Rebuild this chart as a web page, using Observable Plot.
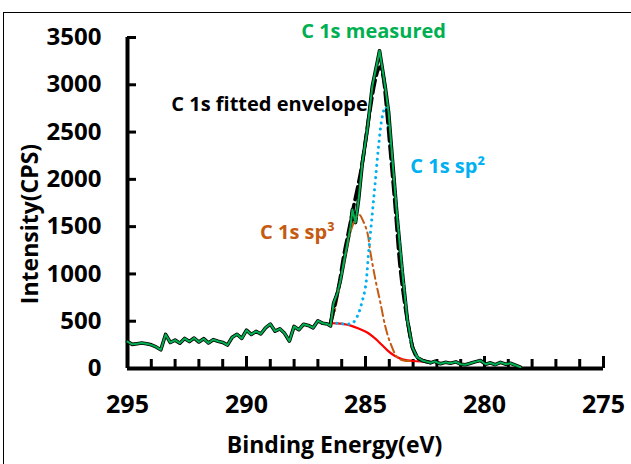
<!DOCTYPE html>
<html><head><meta charset="utf-8">
<script src="https://cdn.jsdelivr.net/npm/d3@7"></script>
<script src="https://cdn.jsdelivr.net/npm/@observablehq/plot@0.6"></script>
<style>
body{margin:0;background:#fff;}
#wrap{position:relative;width:631px;height:464px;overflow:hidden;background:#fff;}
#border{position:absolute;left:3px;top:12px;width:700px;height:600px;border:1.5px solid #000;box-sizing:border-box;}
#chart{position:absolute;left:0;top:0;}
</style></head><body>
<div id="wrap"><div id="border"></div><div id="chart"></div></div>
<script>
// ---- data ----
const measuredBE = [295.0,294.8,294.6,294.4,294.2,294.0,293.8,293.6,293.4,293.2,293.0,292.8,292.6,292.4,292.2,292.0,291.8,291.6,291.4,291.2,291.0,290.8,290.6,290.4,290.2,290.0,289.8,289.6,289.4,289.2,289.0,288.8,288.6,288.4,288.2,288.0,287.8,287.6,287.4,287.2,287.0,286.8,286.6,
  286.47,286.34,286.18,286.05,285.84,285.63,285.55,285.42,285.29,285.13,284.92,284.71,284.50,284.41,284.29,284.16,284.03,283.87,283.66,283.45,283.24,283.03,282.82,282.61,
  282.4,282.27,282.1,281.85,281.65,281.43,281.2,281.0,280.8,280.59,280.4,280.17,279.95,279.75,279.55,279.33,279.1,278.91,278.7,278.49];
const measuredCPS = [285,255,262,270,262,250,228,198,360,275,300,268,318,285,322,280,315,270,305,288,276,248,330,362,318,405,360,392,365,430,470,395,420,372,290,445,410,468,455,430,505,478,470,
  450,691,798,936,1223,1500,1681,1543,1787,2181,2532,2989,3245,3360,3170,2957,2713,2213,1574,1011,511,223,117,85,
  70,60,75,50,65,55,70,45,40,55,70,85,45,60,40,65,45,55,35,15];

const envelopeBE  = [286.47,286.34,286.1,285.92,285.7,285.5,285.3,285.13,284.87,284.58,284.45,284.37,284.25,284.16,283.95,283.74,283.53,283.24,282.98,282.8,282.61,282.27];
const envelopeCPS = [479,617,900,1180,1460,1713,1950,2181,2638,3064,3170,3191,3080,2883,2287,1681,1043,511,191,110,85,64];

const sp2BE  = [286.47,286.1,285.76,285.5,285.29,285.15,285.0,284.87,284.71,284.58,284.45,284.29,284.16,284.03,283.82,283.61,283.4,283.19,282.98,282.69,282.4];
const sp2CPS = [479,477,468,490,585,700,862,1223,1649,2000,2351,2670,2766,2532,2000,1394,862,436,191,85,74];

const sp3BE  = [286.47,286.3,286.1,285.9,285.7,285.5,285.35,285.25,285.1,284.92,284.79,284.58,284.37,284.16,283.95,283.66,283.4,283.0];
const sp3CPS = [479,600,860,1130,1380,1540,1610,1625,1560,1436,1223,936,691,436,266,117,85,78];

const bgBE  = [286.47,286.2,285.9,285.63,285.3,284.92,284.7,284.5,284.3,284.08,283.85,283.66,283.45,283.24,283.0,282.7,282.4];
const bgCPS = [479,477,470,457,425,383,340,298,245,191,145,117,95,85,79,76,74];

const xTickLabels = [295,290,285,280,275];
const xMinorTicks = [294,293,292,291,289,288,287,286,284,283,282,281,279,278,277,276];
const yTicks = [0,500,1000,1500,2000,2500,3000,3500];

const labelText  = ["C 1s measured","C 1s fitted envelope","C 1s sp\u00B2","C 1s sp\u00B3"];
const labelBE    = [284.66,289.03,281.55,287.86];
const labelCPS   = [3565,2790,2140,1440];
const labelColor = ["#00b050","#000000","#00b0f0","#c55a11"];

// ---- build tables ----
const toRows = (xs, ys) => xs.map((x, i) => ({be: x, cps: ys[i]}));
const measured = toRows(measuredBE, measuredCPS);
const envelope = toRows(envelopeBE, envelopeCPS);
const sp2 = toRows(sp2BE, sp2CPS);
const sp3 = toRows(sp3BE, sp3CPS);
const bg = toRows(bgBE, bgCPS);
const labels = labelText.map((t, i) => ({t, be: labelBE[i], cps: labelCPS[i], c: labelColor[i]}));

const font = "'Open Sans', 'Noto Sans', sans-serif";
const W = 631, H = 464, mL = 127, mR = 28, mT = 37, mB = 96;
const frameW = W - mL - mR, frameH = H - mT - mB;

const chart = Plot.plot({
  width: W, height: H,
  marginLeft: mL, marginRight: mR, marginTop: mT, marginBottom: mB,
  x: {domain: [295, 275]},
  y: {domain: [0, 3500]},
  style: {fontFamily: font, fontWeight: "bold", background: "transparent", color: "#000", overflow: "visible"},
  marks: [
    Plot.axisX({ticks: xTickLabels, tickSize: 0, tickPadding: 27, fontSize: 25, label: null}),
    Plot.axisY({ticks: yTicks, tickSize: 0, tickPadding: 26, fontSize: 24, tickFormat: d => String(d), label: null}),
    Plot.ruleX([295], {stroke: "#000", strokeWidth: 4}),
    Plot.ruleY([0], {stroke: "#000", strokeWidth: 4}),
    // inward tick marks (drawn above the axis lines)
    Plot.tickX(xMinorTicks, {x: d => d, insetTop: frameH - 9, stroke: "#000", strokeWidth: 3}),
    Plot.tickX(xTickLabels, {x: d => d, insetTop: frameH - 12, stroke: "#000", strokeWidth: 3}),
    Plot.tickY(yTicks, {y: d => d, insetRight: frameW - 9, stroke: "#000", strokeWidth: 3}),
    Plot.line(measured, {x: "be", y: "cps", stroke: "#000", strokeWidth: 3.6}),
    Plot.line(bg, {x: "be", y: "cps", stroke: "#ff0000", strokeWidth: 2.2, curve: "basis"}),
    Plot.line(sp3, {x: "be", y: "cps", stroke: "#c55a11", strokeWidth: 2, strokeDasharray: "9 4 2 4", curve: "catmull-rom"}),
    Plot.line(sp2, {x: "be", y: "cps", stroke: "#00b0f0", strokeWidth: 3, strokeDasharray: "0.1 6", strokeLinecap: "round", curve: "catmull-rom"}),
    Plot.line(envelope, {x: "be", y: "cps", stroke: "#000", strokeWidth: 3.6, strokeDasharray: "13 5", curve: "catmull-rom"}),
    Plot.line(measured, {x: "be", y: "cps", stroke: "#00b050", strokeWidth: 2}),
    Plot.text(labels, {x: "be", y: "cps", text: "t", fill: "c", fontSize: 20}),
    Plot.text(["Intensity(CPS)"], {frameAnchor: "left", textAnchor: "middle", lineAnchor: "middle", rotate: -90, dx: -97, dy: 21, fontSize: 23}),
    Plot.text(["Binding Energy(eV)"], {frameAnchor: "bottom", textAnchor: "middle", lineAnchor: "middle", dy: 77, dx: -31, fontSize: 23})
  ]
});
document.getElementById("chart").appendChild(chart);
</script>
</body></html>
